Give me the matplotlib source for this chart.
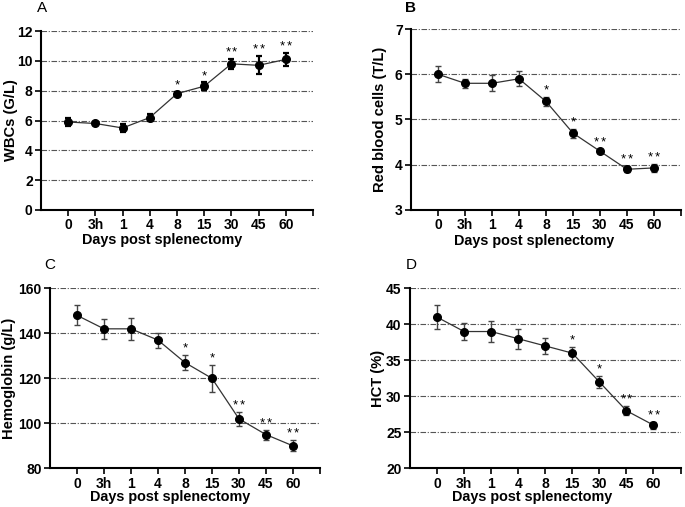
import matplotlib
matplotlib.use("Agg")
import matplotlib.pyplot as plt
import numpy as np

plt.rcParams['font.family'] = ['Liberation Sans', 'DejaVu Sans']

days = ["0", "3h", "1", "4", "8", "15", "30", "45", "60"]

wbc = [5.9, 5.8, 5.5, 6.2, 7.8, 8.3, 9.8, 9.7, 10.1]
wbc_err = [0.25, 0.08, 0.25, 0.25, 0.1, 0.25, 0.35, 0.6, 0.45]
wbc_sig = ["", "", "", "", "*", "*", "**", "**", "**"]

rbc = [6.0, 5.8, 5.8, 5.9, 5.4, 4.7, 4.3, 3.9, 3.93]
rbc_err = [0.18, 0.1, 0.18, 0.17, 0.1, 0.1, 0.05, 0.07, 0.08]
rbc_sig = ["", "", "", "", "*", "*", "**", "**", "**"]

hgb = [148, 142, 142, 137, 127, 120, 102, 95, 90]
hgb_err = [4.5, 4.5, 5.0, 3.3, 3.5, 6.0, 3.0, 2.2, 2.5]
hgb_sig = ["", "", "", "", "*", "*", "**", "**", "**"]

hct = [41, 39, 39, 38, 37, 36, 32, 28, 26]
hct_err = [1.7, 1.2, 1.4, 1.4, 1.1, 0.9, 0.8, 0.6, 0.5]
hct_sig = ["", "", "", "", "", "*", "*", "**", "**"]

panels = [
    dict(rect=[0.0599, 0.5858, 0.397, 0.353], y=wbc, e=wbc_err, s=wbc_sig,
         ylabel="WBCs (G/L)", ylim=(0, 12), yt=np.arange(0, 13, 2), letter="A",
         ecol="black", elw=1.6, xl=0.444, yl=-0.17, ylx=-0.11),
    dict(rect=[0.600, 0.5858, 0.394, 0.357], y=rbc, e=rbc_err, s=rbc_sig,
         ylabel="Red blood cells (T/L)", ylim=(3, 7), yt=np.arange(3, 8, 1), letter="B",
         ecol="#444444", elw=1.0, xl=0.455, yl=-0.17, ylx=-0.115),
    dict(rect=[0.073, 0.0763, 0.394, 0.355], y=hgb, e=hgb_err, s=hgb_sig,
         ylabel="Hemoglobin (g/L)", ylim=(80, 160), yt=np.arange(80, 161, 20), letter="C",
         ecol="#444444", elw=1.0, xl=0.444, yl=-0.16, ylx=-0.152),
    dict(rect=[0.5985, 0.0763, 0.395, 0.355], y=hct, e=hct_err, s=hct_sig,
         ylabel="HCT (%)", ylim=(20, 45), yt=np.arange(20, 46, 5), letter="D",
         ecol="#444444", elw=1.0, xl=0.451, yl=-0.16, ylx=-0.119),
]

fig = plt.figure(figsize=(6.85, 5.07), dpi=100)
x = np.arange(len(days))

for p in panels:
    ax = fig.add_axes(p["rect"])
    ax.set_xlim(-1, 9)
    ax.set_ylim(*p["ylim"])
    for yv in p["yt"][1:]:
        ax.axhline(yv, color="#555555", lw=0.8, ls=(0, (5, 1.5, 1, 1.5)), zorder=0)
    ax.plot(x, p["y"], color="#333333", lw=0.9, zorder=2)
    ax.errorbar(x, p["y"], yerr=p["e"], fmt="none", ecolor=p["ecol"], elinewidth=p["elw"],
                capsize=2.5, capthick=p["elw"], zorder=3)
    ax.plot(x, p["y"], "o", color="black", ms=5.5, zorder=4)
    for xi, yi, ei, si in zip(x, p["y"], p["e"], p["s"]):
        n = len(si)
        offs = [0.0] if n == 1 else ([-2.4, 2.4] if n == 2 else [])
        for dx in offs:
            ax.annotate("*", (xi, yi + ei), xytext=(dx, 2.5),
                        textcoords="offset points", ha="center", va="baseline", fontsize=9.5)
    for sp in ["top", "right"]:
        ax.spines[sp].set_visible(False)
    for sp in ["left", "bottom"]:
        ax.spines[sp].set_linewidth(1.5)
    ax.set_xticks(list(x) + [9])
    ax.set_xticklabels(days + [""])
    ax.set_yticks(p["yt"])
    ax.tick_params(axis="both", direction="out", length=4, width=1.2, pad=2,
                   labelsize=10)
    for lab in ax.get_xticklabels() + ax.get_yticklabels():
        lab.set_fontweight("bold")
    ax.text(p["xl"], p["yl"], "Days post splenectomy", transform=ax.transAxes,
            ha="center", va="center", fontsize=10.4, fontweight="bold")
    ax.text(p["ylx"], 0.5, p["ylabel"], transform=ax.transAxes, rotation=90,
            ha="center", va="center", fontsize=10.6, fontweight="bold")

fig.text(37 / 685, 1 - 8 / 507, "A", fontsize=11, ha="left", va="center")
fig.text(405 / 685, 1 - 8 / 507, "B", fontsize=11, fontweight="bold", ha="left", va="center")
fig.text(44 / 685, 1 - 265 / 507, "C", fontsize=11, ha="left", va="center")
fig.text(406 / 685, 1 - 265 / 507, "D", fontsize=11, ha="left", va="center")

fig.savefig("out.png", dpi=100)
